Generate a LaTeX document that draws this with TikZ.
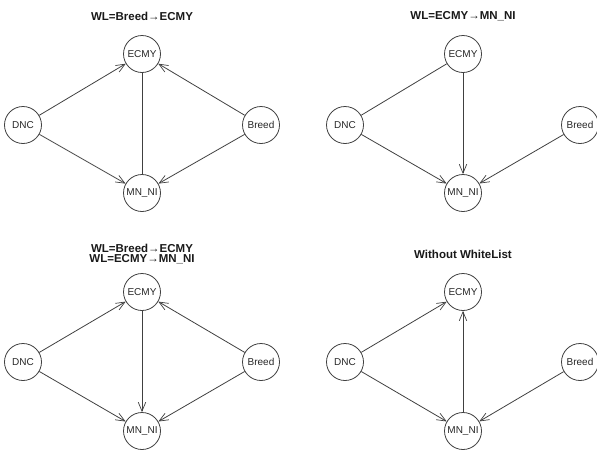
\documentclass[tikz,border=0pt]{standalone}
\usepackage{fontspec}
\setmainfont{Liberation Sans}
\usetikzlibrary{arrows.meta}
\tikzset{
  var/.style={circle, draw=black!75, line width=0.8pt, minimum size=37pt, inner sep=0pt, font=\fontsize{10}{11}\selectfont, text=black!85},
  edge/.style={draw=black!75, line width=0.8pt},
  dir/.style={edge, -{Straight Barb[length=9pt,width=7.5pt,line width=0.7pt]}},
  paneltitle/.style={font=\bfseries\fontsize{11.5}{10.5}\selectfont, align=center, text=black!90}
}
\begin{document}
\begin{tikzpicture}[x=1pt, y=-1pt]
\useasboundingbox (0,0) rectangle (597,450);
\clip (0,0) rectangle (597,450);

% Panel A: Breed -> ECMY whitelisted
\node[paneltitle] (tA) at (142,16) {WL=Breed→ECMY};
\node[var] (eA) at (142,54) {ECMY};
\node[var] (dA) at (23,125) {DNC};
\node[var] (bA) at (261,125) {Breed};
\node[var] (mA) at (142,193) {MN\_NI};
\draw[dir] (dA) -- (eA);
\draw[dir] (bA) -- (eA);
\draw[dir] (dA) -- (mA);
\draw[dir] (bA) -- (mA);
\draw[edge] (eA) -- (mA);

% Panel B: ECMY -> MN_NI whitelisted
\node[paneltitle] (tB) at (463,16) {WL=ECMY→MN\_NI};
\node[var] (eB) at (463,54) {ECMY};
\node[var] (dB) at (345,125) {DNC};
\node[var] (bB) at (580,125) {Breed};
\node[var] (mB) at (463,193) {MN\_NI};
\draw[edge] (dB) -- (eB);
\draw[dir] (eB) -- (mB);
\draw[dir] (dB) -- (mB);
\draw[dir] (bB) -- (mB);

% Panel C: both whitelisted
\node[paneltitle] (tC) at (142,254) {WL=Breed→ECMY\\WL=ECMY→MN\_NI};
\node[var] (eC) at (142,292) {ECMY};
\node[var] (dC) at (23,362) {DNC};
\node[var] (bC) at (261,362) {Breed};
\node[var] (mC) at (142,431) {MN\_NI};
\draw[dir] (dC) -- (eC);
\draw[dir] (bC) -- (eC);
\draw[dir] (eC) -- (mC);
\draw[dir] (dC) -- (mC);
\draw[dir] (bC) -- (mC);

% Panel D: no whitelist
\node[paneltitle] (tD) at (463,254) {Without WhiteList};
\node[var] (eD) at (463,292) {ECMY};
\node[var] (dD) at (345,362) {DNC};
\node[var] (bD) at (580,362) {Breed};
\node[var] (mD) at (463,431) {MN\_NI};
\draw[dir] (dD) -- (eD);
\draw[dir] (mD) -- (eD);
\draw[dir] (dD) -- (mD);
\draw[dir] (bD) -- (mD);
\end{tikzpicture}
\end{document}
